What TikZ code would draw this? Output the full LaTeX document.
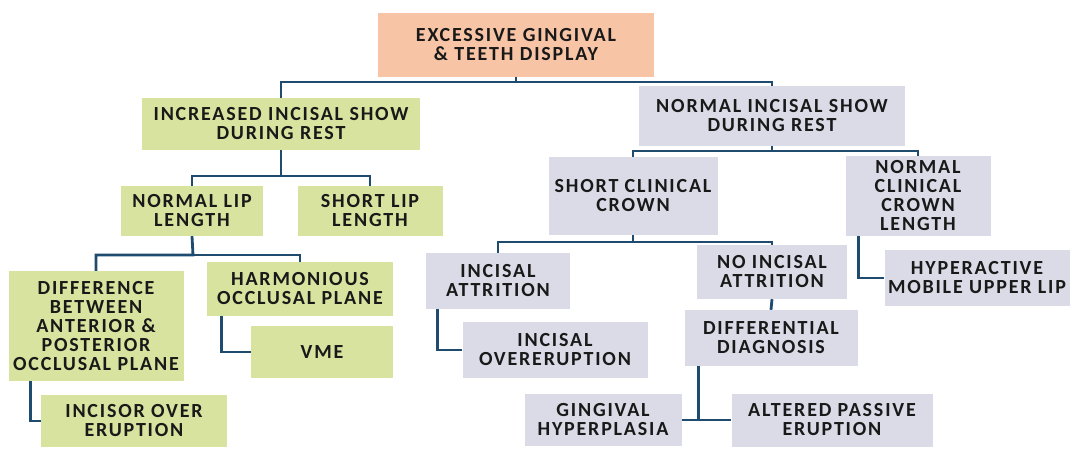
\documentclass[tikz,border=0pt]{standalone}
\usepackage{fontspec}
\setmainfont{Carlito}[LetterSpace=9]
\definecolor{rootfill}{RGB}{247,196,166}
\definecolor{greenfill}{RGB}{215,227,158}
\definecolor{greyfill}{RGB}{219,219,231}
\definecolor{linkcol}{RGB}{30,75,110}
\tikzset{
    box/.style={inner sep=0pt,align=center,font=\bfseries\fontsize{20}{19}\selectfont,text=black!90},
    rootbox/.style={box,fill=rootfill},
    greenbox/.style={box,fill=greenfill},
    greybox/.style={box,fill=greyfill},
    link/.style={draw=linkcol,line width=2.8pt}
}
\begin{document}
\begin{tikzpicture}[x=1pt,y=-1pt]
        \useasboundingbox (0,0) rectangle (1072,451);
        \node[rootbox,minimum width=276pt,minimum height=64pt] (root) at (516,45){EXCESSIVE GINGIVAL\\\& TEETH DISPLAY};

        % increased incisal show side
        \node[greenbox,minimum width=278pt,minimum height=52pt] (inc) at (281,124){INCREASED INCISAL SHOW\\DURING REST};
        \node[greenbox,minimum width=142pt,minimum height=50pt] (nll) at (192,211){NORMAL LIP\\LENGTH};
        \node[greenbox,minimum width=145pt,minimum height=50pt] (sll) at (370,211){SHORT LIP\\LENGTH};
        \node[greenbox,minimum width=175pt,minimum height=110pt] (diff) at (96,326){DIFFERENCE\\BETWEEN\\ANTERIOR \&\\POSTERIOR\\OCCLUSAL PLANE};
        \node[greenbox,minimum width=186pt,minimum height=54pt] (harm) at (300,289){HARMONIOUS\\OCCLUSAL PLANE};
        \node[greenbox,minimum width=142pt,minimum height=52pt] (vme) at (322,352){VME};
        \node[greenbox,minimum width=186pt,minimum height=52pt] (iov) at (134,421){INCISOR OVER\\ERUPTION};

        % normal incisal show side
        \node[greybox,minimum width=266pt,minimum height=60pt] (nis) at (772,116){NORMAL INCISAL SHOW\\DURING REST};
        \node[greybox,minimum width=169pt,minimum height=78pt] (scc) at (633,196){SHORT CLINICAL\\CROWN};
        \node[greybox,minimum width=145pt,minimum height=80pt] (ncl) at (918,196){NORMAL\\CLINICAL\\CROWN\\LENGTH};
        \node[greybox,minimum width=185pt,minimum height=56pt] (hma) at (977,278){HYPERACTIVE\\MOBILE UPPER LIP};
        \node[greybox,minimum width=144pt,minimum height=56pt] (ia) at (498,281){INCISAL\\ATTRITION};
        \node[greybox,minimum width=150pt,minimum height=54pt] (nia) at (772,272){NO INCISAL\\ATTRITION};
        \node[greybox,minimum width=185pt,minimum height=56pt] (ioe) at (555,350){INCISAL\\OVERERUPTION};
        \node[greybox,minimum width=173pt,minimum height=56pt] (dd) at (771,338){DIFFERENTIAL\\DIAGNOSIS};
        \node[greybox,minimum width=157pt,minimum height=52pt] (gh) at (603,420){GINGIVAL\\HYPERPLASIA};
        \node[greybox,minimum width=201pt,minimum height=53pt] (ape) at (832,420){ALTERED PASSIVE\\ERUPTION};

        \coordinate (b0) at (516,82);
        \coordinate (b1) at (281,176);
        \coordinate (b2) at (193,255);
        \coordinate (b3) at (772,151);
        \coordinate (b4) at (633,242);

        \draw[link] (root.south) -- (b0) -| (inc.north);
        \draw[link] (b0) -| (nis.north);
        \draw[link] (inc.south) -- (b1) -| (nll.north);
        \draw[link] (b1) -| (sll.north);
        \draw[link] (nll.south) -- (b2) -| (diff.north);
        \draw[link] (b2) -| (harm.north);
        \draw[link] ([xshift=22pt]diff.south west) |- (iov.west);
        \draw[link] ([xshift=15pt]harm.south west) |- (vme.west);
        \draw[link] (nis.south) -- (b3) -| (scc.north);
        \draw[link] (b3) -| (ncl.north);
        \draw[link] ([xshift=13pt]ncl.south west) |- (hma.west);
        \draw[link] (scc.south) -- (b4) -| (ia.north);
        \draw[link] (b4) -| (nia.north);
        \draw[link] ([xshift=12pt]ia.south west) |- (ioe.west);
        \draw[link] (nia.south) -- (dd.north);
        \draw[link] ([xshift=14pt]dd.south west) |- (gh.east);
        \draw[link] (gh.east) -- (ape.west);
    \end{tikzpicture}
\end{document}
